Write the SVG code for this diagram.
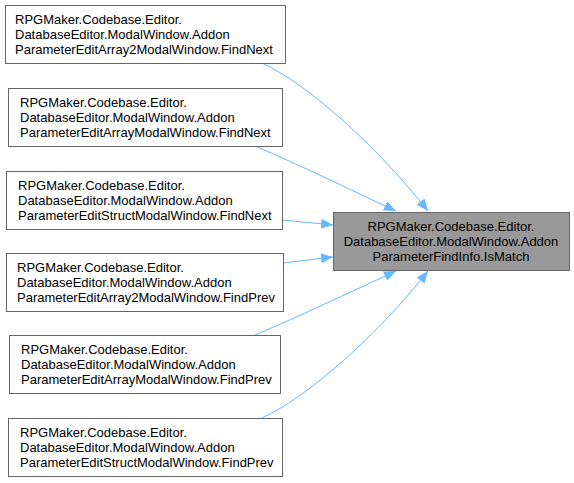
<svg xmlns="http://www.w3.org/2000/svg" width="574" height="483" viewBox="0 0 574 483">
<defs>
<style>
.n rect{fill:#fff;stroke:#666;stroke-width:1}
.g rect{fill:#999;stroke:#666;stroke-width:1}
text{font-family:"Liberation Sans",Arial,sans-serif;font-size:13px;fill:#000}
.e path{fill:none;stroke:#63b8ff;stroke-width:1}
</style>
<marker id="a" viewBox="0 0 12 10" refX="12" refY="5" markerWidth="12" markerHeight="10" markerUnits="userSpaceOnUse" orient="auto">
<path d="M0,0 L12,5 L0,10 z" fill="#63b8ff"/>
</marker>
</defs>
<rect width="574" height="483" fill="#fff"/>
<g class="e">
<path d="M262,63 C310,85 380,150 428,211" marker-end="url(#a)"/>
<path d="M255,146 C300,165 355,192 396,211" marker-end="url(#a)"/>
<path d="M283,220 C300,222 315,223 333,225" marker-end="url(#a)"/>
<path d="M283,263 C300,261 315,259 333,257" marker-end="url(#a)"/>
<path d="M255,335 C300,316 355,290 396,271" marker-end="url(#a)"/>
<path d="M262,418 C310,396 380,332 428,271" marker-end="url(#a)"/>
</g>
<g id="n1" class="n"><rect x="5.5" y="5.5" width="280" height="58"/>
<text x="15" y="24">RPGMaker.Codebase.Editor.</text><text x="15" y="39">DatabaseEditor.ModalWindow.Addon</text><text x="15" y="54">ParameterEditArray2ModalWindow.FindNext</text></g>
<g id="n2" class="n"><rect x="8.5" y="88.5" width="274" height="58"/>
<text x="20" y="107">RPGMaker.Codebase.Editor.</text><text x="20" y="122">DatabaseEditor.ModalWindow.Addon</text><text x="20" y="137">ParameterEditArrayModalWindow.FindNext</text></g>
<g id="n3" class="n"><rect x="6.5" y="171.5" width="276" height="58"/>
<text x="18" y="190">RPGMaker.Codebase.Editor.</text><text x="18" y="205">DatabaseEditor.ModalWindow.Addon</text><text x="18" y="220">ParameterEditStructModalWindow.FindNext</text></g>
<g id="n4" class="n"><rect x="6.5" y="253.5" width="277" height="58"/>
<text x="17" y="272">RPGMaker.Codebase.Editor.</text><text x="17" y="287">DatabaseEditor.ModalWindow.Addon</text><text x="17" y="302">ParameterEditArray2ModalWindow.FindPrev</text></g>
<g id="n5" class="n"><rect x="9.5" y="335.5" width="271" height="58"/>
<text x="21" y="354">RPGMaker.Codebase.Editor.</text><text x="21" y="369">DatabaseEditor.ModalWindow.Addon</text><text x="21" y="384">ParameterEditArrayModalWindow.FindPrev</text></g>
<g id="n6" class="n"><rect x="8.5" y="418.5" width="274" height="58"/>
<text x="20" y="437">RPGMaker.Codebase.Editor.</text><text x="20" y="452">DatabaseEditor.ModalWindow.Addon</text><text x="20" y="467">ParameterEditStructModalWindow.FindPrev</text></g>
<g id="n0" class="g"><rect x="333.5" y="212.5" width="236" height="58"/>
<text x="451" y="231" text-anchor="middle">RPGMaker.Codebase.Editor.</text><text x="451" y="246" text-anchor="middle">DatabaseEditor.ModalWindow.Addon</text><text x="451" y="261" text-anchor="middle">ParameterFindInfo.IsMatch</text></g>
</svg>
